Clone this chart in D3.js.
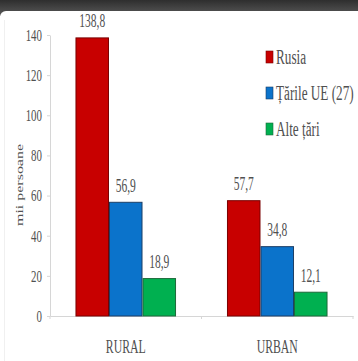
<!DOCTYPE html>
<html>
<head>
<meta charset="utf-8">
<script src="https://cdn.jsdelivr.net/npm/d3@7"></script>
<style>
  html, body { margin: 0; padding: 0; background: #ffffff; }
  svg { display: block; }
  text { font-family: "Liberation Serif", "Times New Roman", serif; fill: #505050; }
</style>
</head>
<body>
<svg id="chart" width="358" height="361"></svg>
<script>
// Population (thousand people) by area of residence and country of origin
const categories = ["RURAL", "URBAN"];
const seriesNames = ["Rusia", "Țările UE (27)", "Alte țări"];
const rusia = [138.8, 57.7];
const tarileUE = [56.9, 34.8];
const alteTari = [18.9, 12.1];
const yTicks = [0, 20, 40, 60, 80, 100, 120, 140];
const yTitle = "mii persoane";

const seriesValues = [rusia, tarileUE, alteTari];
const colors = ["#c80000", "#0b73cb", "#00b050"];
const strokes = ["#7a0000", "#1d3f66", "#1d6a3a"];

const svg = d3.select("#chart");
const W = 358, H = 361;

// window chrome: dark header strip and white rounded panel
const defs = svg.append("defs");
const grad = defs.append("linearGradient").attr("id", "hdr").attr("x1", 0).attr("y1", 0).attr("x2", 0).attr("y2", 1);
grad.append("stop").attr("offset", "0%").attr("stop-color", "#2e2e2e");
grad.append("stop").attr("offset", "100%").attr("stop-color", "#5a5a5a");
svg.append("rect").attr("x", 0).attr("y", 0).attr("width", W).attr("height", 16).attr("fill", "url(#hdr)");
svg.append("rect").attr("x", 0).attr("y", 11).attr("width", W + 10).attr("height", H).attr("rx", 6).attr("fill", "#ffffff");
svg.append("line").attr("x1", 4.5).attr("x2", 4.5).attr("y1", 20).attr("y2", H)
  .attr("stroke", "#f0f0f0").attr("stroke-width", 1);

const plot = { left: 50, right: 353, top: 35, bottom: 316 };

const x0 = d3.scaleBand().domain(categories).range([plot.left, plot.right]).paddingInner(0).paddingOuter(0);
const x1 = d3.scaleBand().domain(seriesNames).range([0, x0.bandwidth()]).paddingInner(0).paddingOuter(0.76);
const y = d3.scaleLinear().domain([0, 140]).range([plot.bottom, plot.top]);

// narrow serif lettering: horizontally condensed text
function squeezedText(sel, x, yy, size, anchor, sq) {
  return sel.append("text")
    .attr("transform", `translate(${x},${yy}) scale(${sq},1)`)
    .attr("text-anchor", anchor)
    .attr("font-size", size);
}

// y axis
const yAxis = d3.axisLeft(y).tickValues(yTicks).tickSize(3).tickSizeOuter(0).tickPadding(5);
const gy = svg.append("g").attr("transform", `translate(${plot.left},0)`).call(yAxis);
gy.select(".domain").attr("stroke", "#d6d6d6");
gy.selectAll(".tick line").attr("stroke", "#d6d6d6");
gy.selectAll(".tick text").remove();
yTicks.forEach(t => {
  squeezedText(svg, plot.left - 8, y(t) + 5.8, 17, "end", 0.64).text(t);
});

// x axis
const xAxis = d3.axisBottom(x0).tickSize(0).tickFormat("");
const gx = svg.append("g").attr("transform", `translate(0,${plot.bottom})`).call(xAxis);
gx.select(".domain").attr("stroke", "#d6d6d6");
gx.selectAll(".tick").remove();
const seps = [plot.left, x0("URBAN"), plot.right];
gx.selectAll(".sep").data(seps).join("line").attr("class", "sep")
  .attr("x1", d => d).attr("x2", d => d).attr("y1", 0).attr("y2", 3)
  .attr("stroke", "#d6d6d6");

categories.forEach(c => {
  squeezedText(svg, x0(c) + x0.bandwidth() / 2, 353, 19, "middle", 0.62).text(c);
});

// y axis title
svg.append("text")
  .attr("transform", `translate(23,${185}) rotate(-90) scale(1,0.62)`)
  .attr("text-anchor", "middle")
  .attr("font-size", 16)
  .text(yTitle);

// bars
const fmt = v => d3.format(".1f")(v).replace(".", ",");
categories.forEach((c, ci) => {
  seriesNames.forEach((s, si) => {
    const v = seriesValues[si][ci];
    const bx = x0(c) + x1(s);
    svg.append("rect")
      .attr("x", bx + 0.5).attr("y", y(v) + 0.5)
      .attr("width", x1.bandwidth() - 1).attr("height", y(0) - y(v) - 0.5)
      .attr("fill", colors[si]).attr("stroke", strokes[si]).attr("stroke-width", 1);
    squeezedText(svg, bx + x1.bandwidth() / 2, y(v) - 10, 18, "middle", 0.64).text(fmt(v));
  });
});

// legend
const legendRows = [64, 100, 136];
seriesNames.forEach((s, si) => {
  svg.append("rect")
    .attr("x", 266).attr("y", legendRows[si] - 13)
    .attr("width", 7).attr("height", 12)
    .attr("fill", colors[si]).attr("stroke", strokes[si]).attr("stroke-width", 0.6);
  squeezedText(svg, 276, legendRows[si], 20, "start", 0.66).text(s);
});
</script>
</body>
</html>
